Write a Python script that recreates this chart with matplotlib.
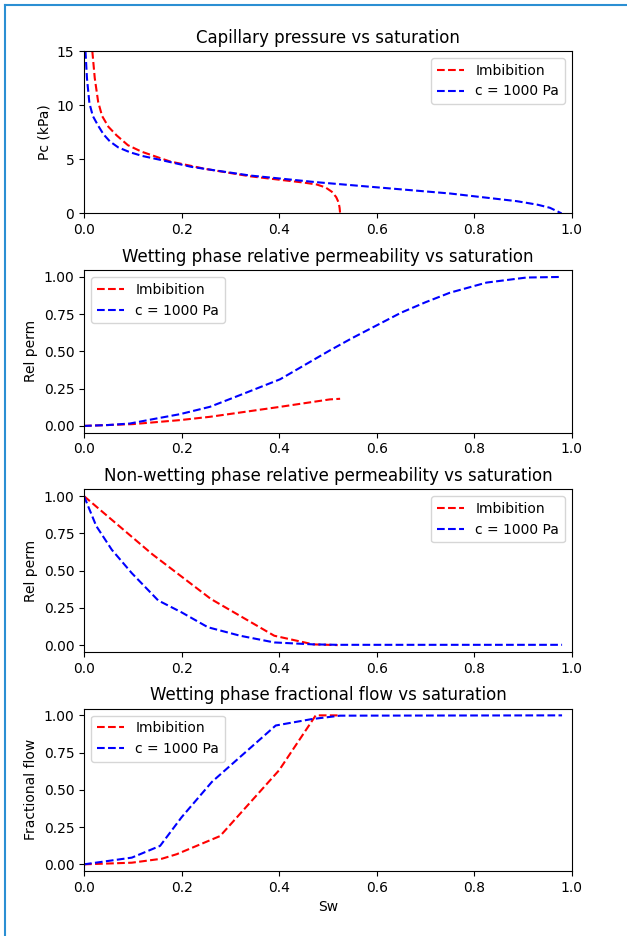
import matplotlib
matplotlib.use('Agg')
import matplotlib.pyplot as plt
from matplotlib.lines import Line2D

# capillary pressure (kPa)
swPcImb = [0.017, 0.022, 0.029, 0.037, 0.05, 0.067, 0.09, 0.118, 0.176, 0.25, 0.34, 0.408, 0.45, 0.477, 0.495, 0.508, 0.517, 0.522, 0.524, 0.525]
pcImb = [15, 12.5, 10.3, 9.0, 8.0, 7.2, 6.3, 5.7, 4.8, 4.1, 3.43, 3.07, 2.85, 2.67, 2.4, 2.0, 1.5, 1.0, 0.5, 0]
swPcC = [0.003, 0.006, 0.011, 0.018, 0.029, 0.04, 0.053, 0.07, 0.094, 0.12, 0.156, 0.22, 0.34, 0.477, 0.613, 0.75, 0.887, 0.93, 0.955, 0.979]
pcC = [15, 12.5, 10.2, 9.0, 8.1, 7.3, 6.65, 6.1, 5.65, 5.3, 4.95, 4.3, 3.5, 2.88, 2.36, 1.84, 1.13, 0.8, 0.52, 0]

# wetting phase rel perm
swKrwImb = [0, 0.1, 0.197, 0.258, 0.402, 0.504, 0.525]
krwImb = [0, 0.012, 0.039, 0.061, 0.128, 0.178, 0.182]
swKrwC = [0, 0.05, 0.094, 0.149, 0.197, 0.258, 0.32, 0.402, 0.504, 0.55, 0.6, 0.65, 0.7, 0.75, 0.825, 0.907, 0.979]
krwC = [0, 0.006, 0.016, 0.05, 0.079, 0.128, 0.207, 0.313, 0.507, 0.59, 0.675, 0.76, 0.83, 0.894, 0.962, 0.996, 1.0]

# non-wetting phase rel perm
swKrnImb = [0, 0.14, 0.26, 0.39, 0.47, 0.52]
krnImb = [1.0, 0.61, 0.31, 0.063, 0.005, 0.0]
swKrnC = [0, 0.025, 0.057, 0.098, 0.152, 0.2, 0.254, 0.32, 0.39, 0.47, 0.52, 0.98]
krnC = [1.0, 0.8, 0.64, 0.483, 0.3, 0.22, 0.12, 0.063, 0.018, 0.005, 0.002, 0.002]

# fractional flow
swFwImb = [0, 0.098, 0.16, 0.19, 0.279, 0.4, 0.475, 0.525]
fwImb = [0, 0.011, 0.038, 0.068, 0.19, 0.632, 1.0, 1.0]
swFwC = [0, 0.098, 0.156, 0.2, 0.262, 0.393, 0.467, 0.525, 0.98]
fwC = [0, 0.045, 0.124, 0.316, 0.553, 0.932, 0.975, 0.998, 1.0]

labels = ['Imbibition', 'c = 1000 Pa']

fig, axs = plt.subplots(4, 1, figsize=(6.27, 9.36), dpi=100)
fig.subplots_adjust(left=0.134, right=0.912, top=0.9455, bottom=0.0694, hspace=0.35)

panels = [
    (swPcImb, pcImb, swPcC, pcC, 'Capillary pressure vs saturation', 'Pc (kPa)', 'upper right'),
    (swKrwImb, krwImb, swKrwC, krwC, 'Wetting phase relative permeability vs saturation', 'Rel perm', 'upper left'),
    (swKrnImb, krnImb, swKrnC, krnC, 'Non-wetting phase relative permeability vs saturation', 'Rel perm', 'upper right'),
    (swFwImb, fwImb, swFwC, fwC, 'Wetting phase fractional flow vs saturation', 'Fractional flow', 'upper left'),
]

for ax, (x1, y1, x2, y2, title, ylab, loc) in zip(axs, panels):
    ax.plot(x1, y1, 'r--', label=labels[0])
    ax.plot(x2, y2, 'b--', label=labels[1])
    ax.set_title(title)
    ax.set_ylabel(ylab)
    ax.set_xlim(0, 1)
    ax.legend(loc=loc)

axs[0].set_ylim(0, 15)
axs[0].set_yticks([0, 5, 10, 15])
for ax in axs[1:]:
    ax.set_ylim(-0.045, 1.045)
    ax.set_yticks([0, 0.25, 0.5, 0.75, 1.0])
axs[3].set_xlabel('Sw')

# blue frame of the screenshot
borderColor = '#2b8fd3'
fig.add_artist(Line2D([0.0075, 0.0075], [0, 0.9947], transform=fig.transFigure, color=borderColor, lw=1.5))
fig.add_artist(Line2D([0.0075, 1], [0.9947, 0.9947], transform=fig.transFigure, color=borderColor, lw=1.5))

fig.savefig('out.png', dpi=100)
